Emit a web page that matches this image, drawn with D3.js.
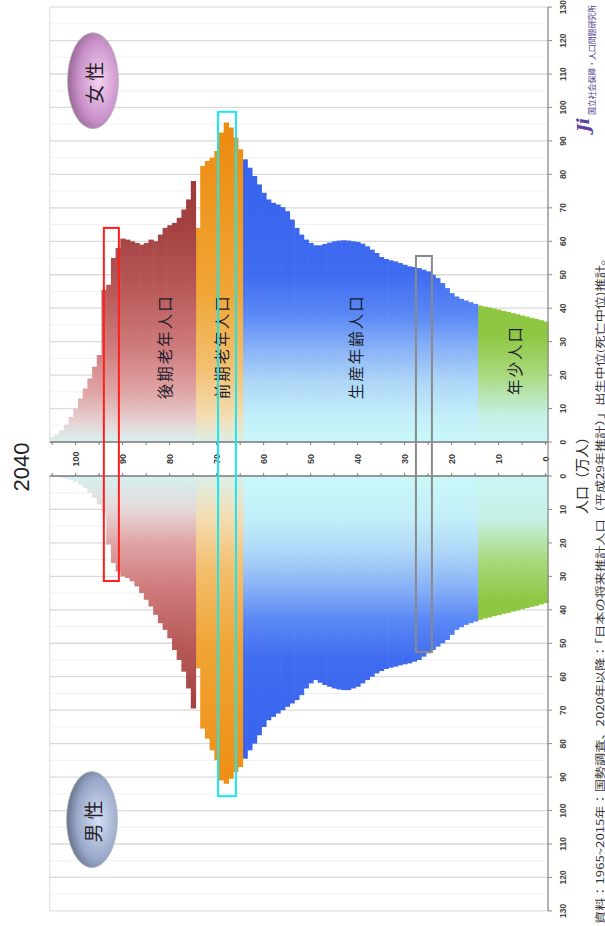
<!DOCTYPE html>
<html><head><meta charset="utf-8">
<script src="https://cdn.jsdelivr.net/npm/d3@7"></script>
<style>html,body{margin:0;padding:0;background:#fff;} svg{display:block;}</style>
</head><body><svg id="chart" width="605" height="926"></svg>
<script>
// ---------- data ----------
const year = "2040";
const ages = d3.range(0, 106);
const female = [36.0,36.4,36.8,37.1,37.5,37.8,38.2,38.5,38.9,39.2,
  39.6,39.9,40.2,40.5,40.8,41.3,41.8,42.3,42.8,43.5,
  44.5,46.0,47.5,49.0,50.0,51.0,51.5,52.0,52.3,52.5,
  53.0,53.5,54.0,54.3,54.7,55.3,56.5,57.5,58.5,59.3,
  59.8,60.0,60.2,60.3,60.2,60.0,59.6,59.2,58.8,58.8,
  59.5,60.5,62.0,64.0,66.5,69.0,70.2,71.0,71.5,72.5,
  74.5,77.0,79.5,82.0,84.5,87.5,91.0,94.0,95.5,92.5,
  87.0,85.0,84.0,82.5,64.0,78.0,72.5,69.5,67.0,65.5,
  64.8,64.0,62.0,60.0,60.5,59.5,59.0,59.5,60.0,60.5,
  60.8,58.0,55.0,47.0,45.5,26.0,22.5,19.0,16.0,13.0,
  10.0,7.5,5.2,3.6,2.3,1.5];
const male = [38.0,38.4,38.8,39.1,39.5,39.8,40.2,40.5,40.9,41.2,
  41.6,41.9,42.3,42.6,43.0,43.5,44.0,44.5,45.2,46.0,
  47.5,49.0,50.0,51.0,52.0,53.0,54.0,55.0,55.5,56.0,
  56.3,56.6,57.0,57.3,57.7,58.3,59.0,60.0,61.0,62.0,
  63.0,63.5,64.0,64.0,63.8,63.5,63.0,62.5,61.8,61.0,
  62.0,63.5,65.5,67.0,68.0,69.0,70.0,71.0,72.0,73.0,
  75.0,77.5,80.0,82.0,84.5,87.0,88.5,90.5,92.0,91.0,
  85.0,82.0,78.5,75.5,57.5,69.5,63.5,58.5,55.0,52.0,
  48.5,46.0,44.0,41.5,39.0,37.0,35.0,33.0,31.5,30.5,
  30.0,28.5,26.0,20.5,11.0,8.5,6.5,5.0,3.6,2.6,
  1.8,1.2,0.8,0.5,0.3,0.2];
const popTicks = d3.range(0, 131, 10);
const ageTicks = d3.range(0, 101, 10);
const groupNames = ["年少人口", "生産年齢人口", "前期老年人口", "後期老年人口"];
const groupKeys = ["young", "working", "early", "late"];
const groupStart = [0, 15, 65, 75];
const groupEnd = [14, 64, 74, 105];
const sexLabels = ["女性", "男性"];
const highlightAgeFrom = [91.3, 66.4, 24.7];
const highlightAgeTo = [94.5, 70.2, 28.1];
const highlightFemale = [64, 98.7, 55.6];
const highlightMale = [31.4, 95.7, 52.6];
const highlightColors = ["#ff1f1f", "#19e6ee", "#8a8a8a"];
const axisTitle = "人口（万人）";
const sourceText = "資料：1965~2015年：国勢調査、2020年以降：「日本の将来推計人口（平成29年推計）」出生中位(死亡中位)推計。";
const institute = "国立社会保障・人口問題研究所";

// ---------- layout (original, un-rotated pyramid) ----------
const W = 926, H = 605;
const svg = d3.select("#chart");
const defs = svg.append("defs");
const g = svg.append("g").attr("transform", `translate(0,${W}) rotate(-90)`);

const yAge = d3.scaleLinear().domain([0, 106]).range([548, 49.8]);
const xF = d3.scaleLinear().domain([0, 130]).range([484, 918.9]);
const xM = d3.scaleLinear().domain([0, 130]).range([450, 15.1]);

// gradients
const gradStops = {
  young: [[0,"#c9f7f7"],[8,"#c6f0e4"],[20,"#aad97e"],[32,"#8fc743"],[90,"#86c232"]],
  working: [[0,"#c9f8f9"],[8,"#c2eef9"],[18,"#aed6f8"],[28,"#88b2f7"],[38,"#5a88f5"],[50,"#3f6bf0"],[90,"#3560ec"]],
  early: [[0,"#dcefe6"],[8,"#f4dcb0"],[22,"#f3c070"],[45,"#f0a535"],[90,"#ee8c12"]],
  late: [[0,"#d6f1f1"],[5,"#e6d8d8"],[15,"#e0a4a4"],[28,"#cf7c7c"],[45,"#b85a5a"],[65,"#a34040"],[90,"#983434"]]
};
const sideShift = {f: 0, m: 5};
const sides = [{k:"f", sc:xF, vals:female}, {k:"m", sc:xM, vals:male}];
sides.forEach(s => {
  groupKeys.forEach(k => {
    const lg = defs.append("linearGradient").attr("id", `gr-${k}-${s.k}`)
      .attr("gradientUnits", "userSpaceOnUse")
      .attr("x1", s.sc(0)).attr("x2", s.sc(100)).attr("y1", 0).attr("y2", 0);
    gradStops[k].forEach(([p, c], j) => {
      const pp = j === 0 ? 0 : Math.min(100, p + sideShift[s.k]);
      lg.append("stop").attr("offset", pp / 100).attr("stop-color", c);
    });
  });
});
function groupOf(a) { for (let i = 0; i < groupKeys.length; i++) if (a >= groupStart[i] && a <= groupEnd[i]) return groupKeys[i]; return "late"; }

// frames + grid
sides.forEach(s => {
  const x0 = s.sc(0), x1 = s.sc(130);
  g.append("rect").attr("x", Math.min(x0, x1)).attr("y", yAge(106))
    .attr("width", Math.abs(x1 - x0)).attr("height", yAge(0) - yAge(106))
    .attr("fill", "none").attr("stroke", "#dedede").attr("stroke-width", 1.2);
  g.selectAll(null).data(d3.range(5, 130, 5)).join("line")
    .attr("x1", d => s.sc(d)).attr("x2", d => s.sc(d))
    .attr("y1", yAge(106)).attr("y2", yAge(0))
    .attr("stroke", d => d % 10 === 0 ? "#dadada" : "#f1f1f1")
    .attr("stroke-width", d => d % 10 === 0 ? 1.3 : 1);
});

// bars
sides.forEach(s => {
  g.append("g").selectAll("rect").data(ages).join("rect")
    .attr("x", a => Math.min(s.sc(0), s.sc(s.vals[a])))
    .attr("width", a => Math.abs(s.sc(s.vals[a]) - s.sc(0)))
    .attr("y", a => yAge(a + 1))
    .attr("height", a => yAge(a) - yAge(a + 1) + 0.6)
    .attr("fill", a => `url(#gr-${groupOf(a)}-${s.k})`);
});

// group labels (female side)
const labelAge = {young: 7.2, working: 41, early: 69.6, late: 81.8};
const labelPop = {young: 24.5, working: 28.5, early: 28.5, late: 28.5};
groupKeys.forEach((k, i) => {
  g.append("text").attr("x", xF(labelPop[k])).attr("y", yAge(labelAge[k]))
    .attr("text-anchor", "middle").attr("dominant-baseline", "central")
    .attr("font-family", "Noto Sans CJK JP, sans-serif").attr("font-size", 15.5)
    .attr("letter-spacing", 2).attr("fill", "#1c1c2c").text(groupNames[i]);
});

// center age axis
[xM(0), xF(0)].forEach((x, i) => {
  g.append("line").attr("x1", x).attr("x2", x).attr("y1", yAge(106)).attr("y2", yAge(0))
    .attr("stroke", "#7a7a7a").attr("stroke-width", 1.3);
  g.selectAll(null).data(d3.range(0, 106, 5)).join("line")
    .attr("x1", x).attr("x2", x + (i === 0 ? 3 : -3))
    .attr("y1", d => yAge(d + 0.5)).attr("y2", d => yAge(d + 0.5))
    .attr("stroke", "#7a7a7a").attr("stroke-width", 1);
});
g.selectAll(null).data(ageTicks).join("text")
  .attr("x", (xM(0) + xF(0)) / 2).attr("y", d => yAge(d + 0.5))
  .attr("text-anchor", "middle").attr("dominant-baseline", "central")
  .attr("font-family", "Liberation Sans, Arial, sans-serif").attr("font-size", 9).attr("font-weight", "bold")
  .attr("fill", "#3a3a3a").text(d => d);

// population axis (bottom of original)
g.append("line").attr("x1", xM(130)).attr("x2", xF(130)).attr("y1", yAge(0)).attr("y2", yAge(0))
  .attr("stroke", "#8a8a8a").attr("stroke-width", 1.2);
sides.forEach(s => {
  g.selectAll(null).data(popTicks).join("line")
    .attr("x1", d => s.sc(d)).attr("x2", d => s.sc(d))
    .attr("y1", yAge(0)).attr("y2", yAge(0) + 4)
    .attr("stroke", "#8a8a8a");
  g.selectAll(null).data(popTicks).join("text")
    .attr("x", d => s.sc(d)).attr("y", yAge(0) + 15)
    .attr("text-anchor", "middle").attr("dominant-baseline", "central")
    .attr("font-family", "Liberation Sans, Arial, sans-serif").attr("font-size", 8.5).attr("font-weight", "bold")
    .attr("fill", "#444").text(d => d);
});
g.append("text").attr("x", W - 472).attr("y", 581)
  .attr("text-anchor", "middle").attr("dominant-baseline", "central")
  .attr("font-family", "Noto Sans CJK JP, sans-serif").attr("font-size", 14).attr("fill", "#222").text(axisTitle);

// source + institute
g.append("text").attr("x", 2).attr("y", 599).attr("dominant-baseline", "central")
  .attr("font-family", "Noto Sans CJK JP, sans-serif").attr("font-size", 10)
  .attr("textLength", 672).attr("lengthAdjust", "spacingAndGlyphs")
  .attr("fill", "#333").text(sourceText);
g.append("text").attr("x", 921).attr("y", 591).attr("text-anchor", "end").attr("dominant-baseline", "central")
  .attr("font-family", "Noto Sans CJK JP, sans-serif").attr("font-size", 8)
  .attr("textLength", 110).attr("lengthAdjust", "spacingAndGlyphs")
  .attr("fill", "#4a3c8c").text(institute);
g.append("text").attr("x", 801).attr("y", 583).attr("text-anchor", "middle").attr("dominant-baseline", "central")
  .attr("font-family", "DejaVu Serif, serif").attr("font-style", "italic").attr("font-weight", "bold")
  .attr("font-size", 17).attr("fill", "#5a3fa8").text("Ji");

// title
g.append("text").attr("x", W - 467).attr("y", 21)
  .attr("text-anchor", "middle").attr("dominant-baseline", "central")
  .attr("font-family", "Liberation Sans, Arial, sans-serif").attr("font-size", 22).attr("fill", "#222").text(year);

// sex ellipses
const ell = [{cx: xF(108), cy: 93, c1: "#f6d2f4", c2: "#c890c8", c3: "#9a6a9a"},
             {cx: xM(102.7), cy: 92, c1: "#d6e0f6", c2: "#98a8c8", c3: "#6a7690"}];
ell.forEach((e, i) => {
  const rg = defs.append("radialGradient").attr("id", `eg${i}`).attr("cx", 0.5).attr("cy", 0.62).attr("r", 0.6);
  rg.append("stop").attr("offset", 0).attr("stop-color", e.c1);
  rg.append("stop").attr("offset", 0.7).attr("stop-color", e.c2);
  rg.append("stop").attr("offset", 1).attr("stop-color", e.c3);
  g.append("ellipse").attr("cx", e.cx).attr("cy", e.cy).attr("rx", 48).attr("ry", 25.5)
    .attr("fill", `url(#eg${i})`).attr("stroke", "#b8b8b8").attr("stroke-width", 0.8);
  g.append("text").attr("x", e.cx).attr("y", e.cy).attr("text-anchor", "middle").attr("dominant-baseline", "central")
    .attr("font-family", "Noto Sans CJK JP, sans-serif").attr("font-size", 19).attr("letter-spacing", 4)
    .attr("fill", "#2a1e2a").text(sexLabels[i]);
});

// highlight boxes
highlightColors.forEach((c, i) => {
  const x0 = xM(highlightMale[i]), x1 = xF(highlightFemale[i]);
  g.append("rect").attr("x", x0).attr("y", yAge(highlightAgeTo[i]))
    .attr("width", x1 - x0).attr("height", yAge(highlightAgeFrom[i]) - yAge(highlightAgeTo[i]))
    .attr("fill", "none").attr("stroke", c).attr("stroke-width", 2);
});
</script></body></html>
